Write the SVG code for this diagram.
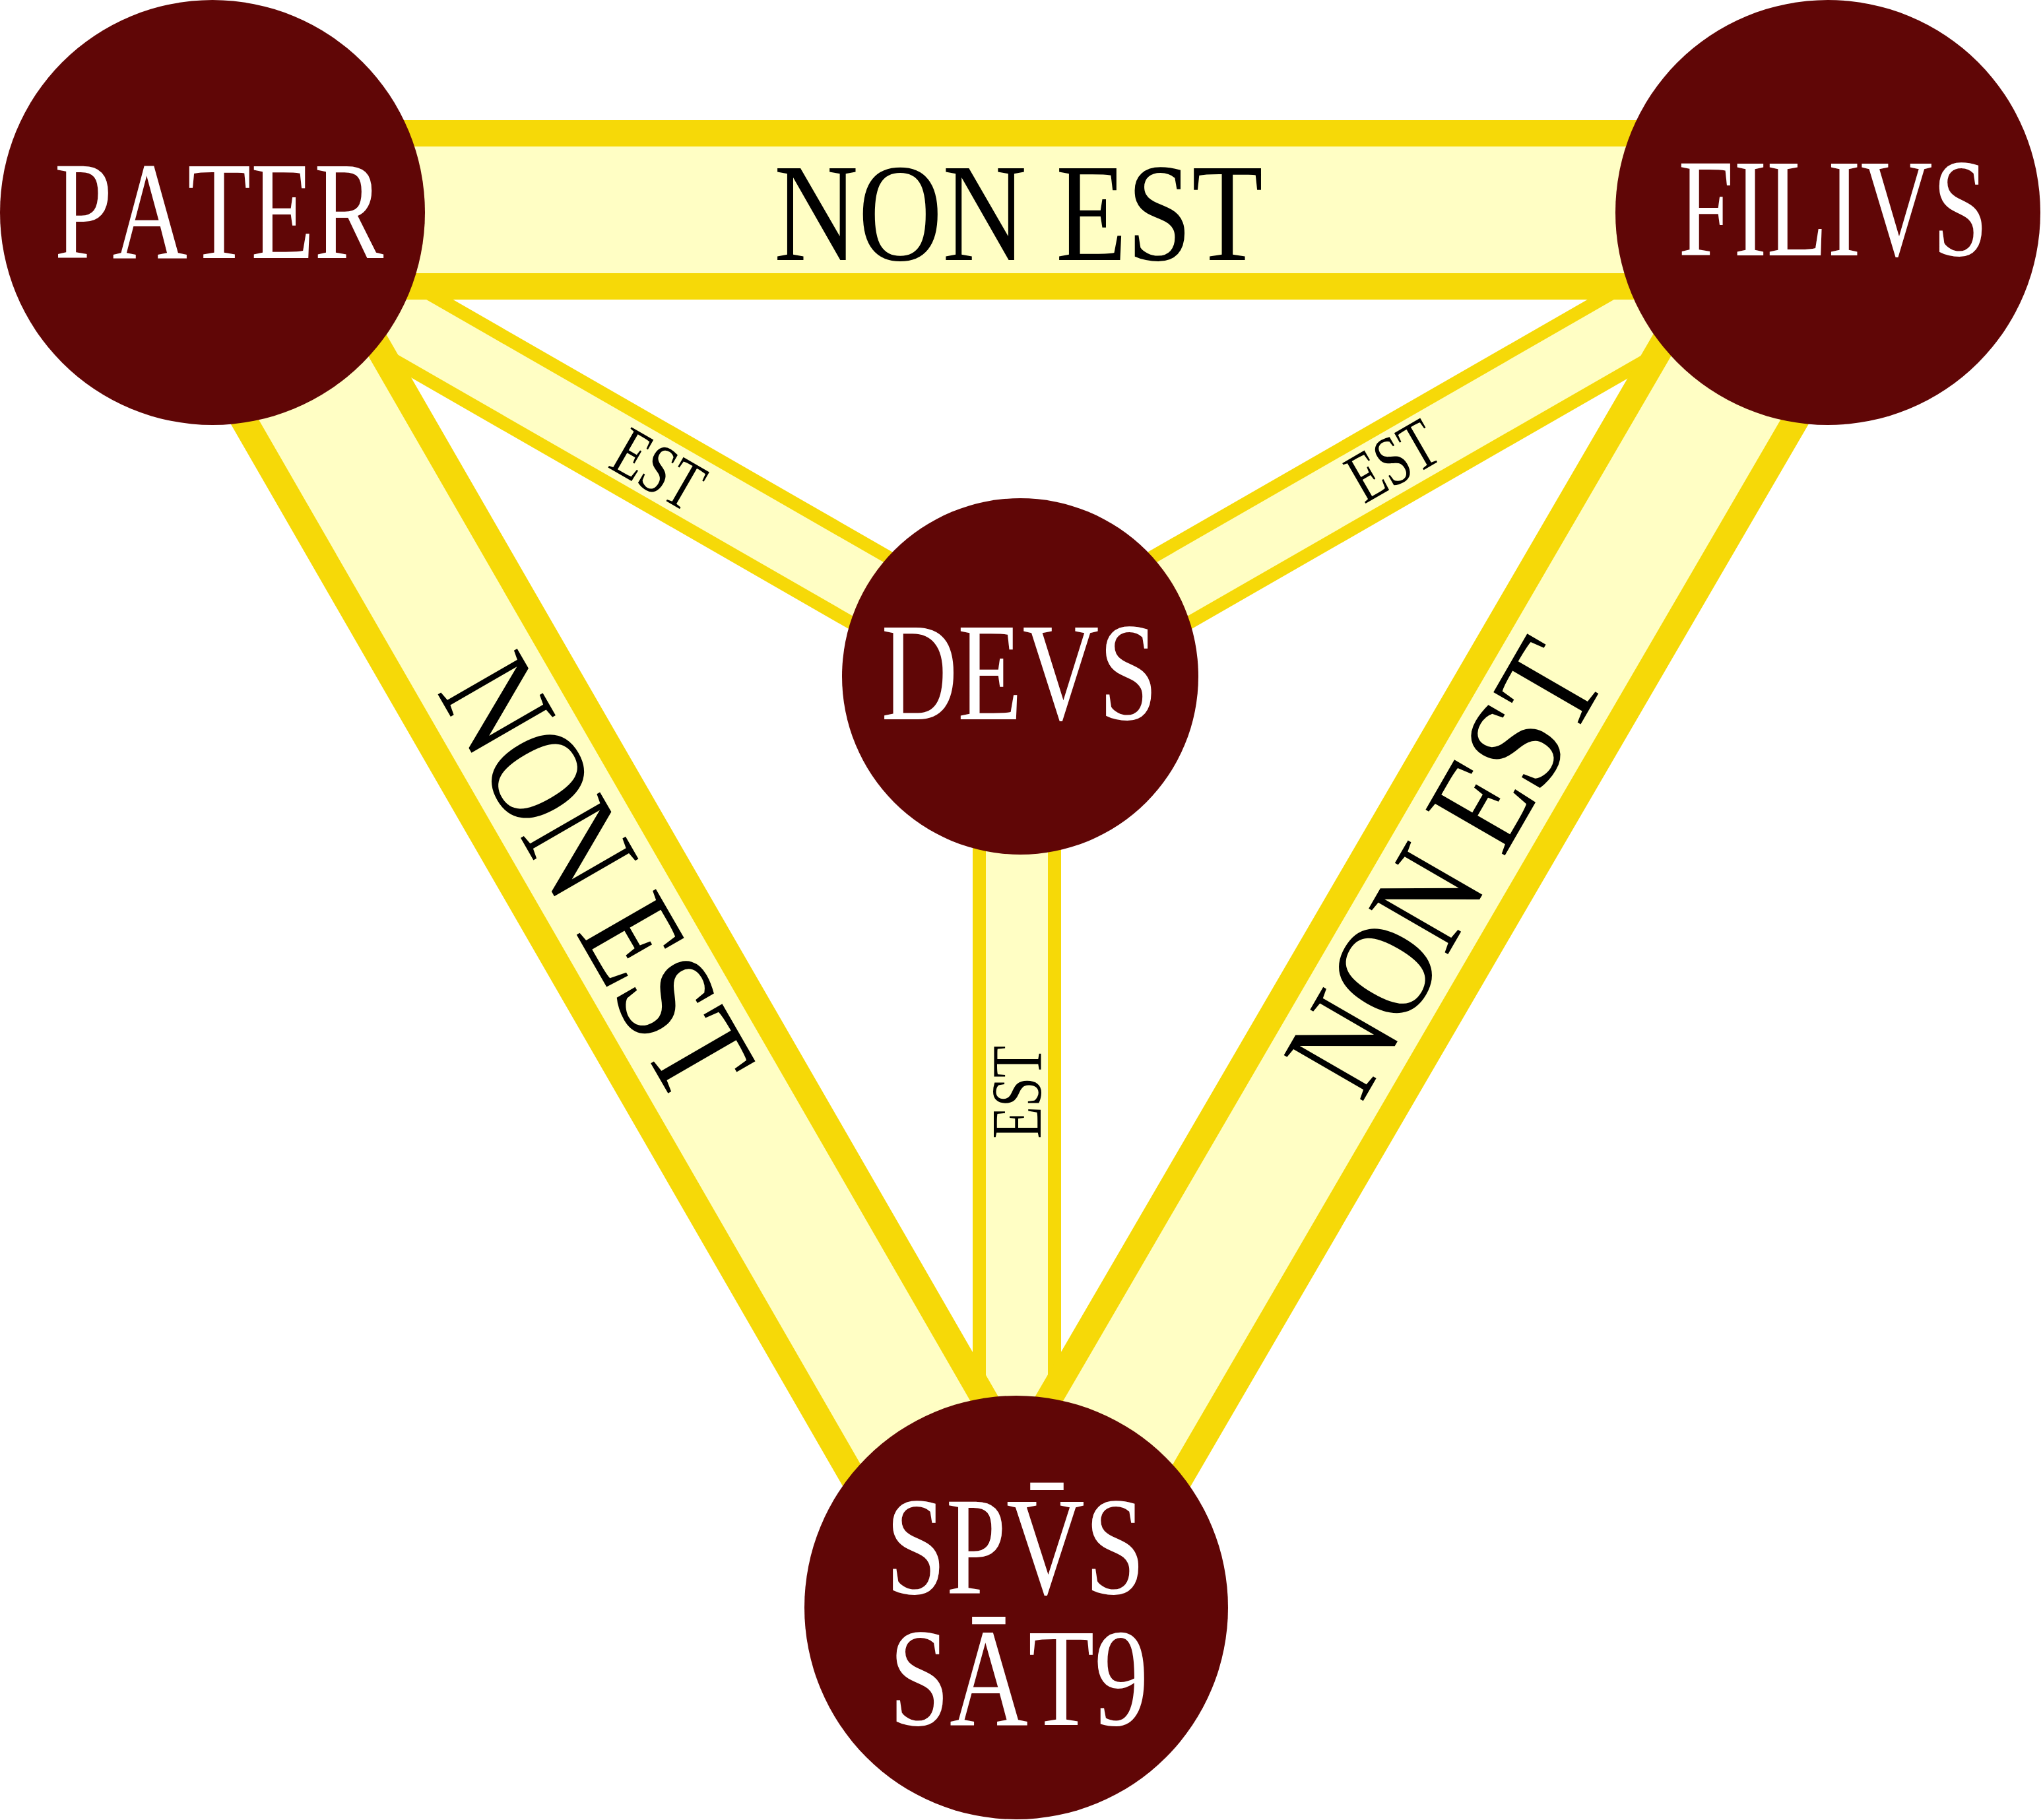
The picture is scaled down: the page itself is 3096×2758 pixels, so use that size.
<svg xmlns="http://www.w3.org/2000/svg" width="3096" height="2758" viewBox="0 0 3096 2758">
<style>
.y{stroke:#F6D908;fill:none}
.l{stroke:#FFFEC4;fill:none}
.ew{stroke-width:134}
.el{stroke-width:94}
.nw{stroke-width:272}
.nl{stroke-width:192}
.node{fill:#600606}
text{font-family:"Liberation Serif","Times New Roman",serif;text-anchor:middle;font-kerning:none}
.lbl{font-size:212px;fill:#ffffff}
.big{font-size:212px;fill:#000000}
.small{font-size:108px;fill:#000000}
</style>
<rect width="3096" height="2758" fill="#ffffff"/>
<g id="connectors">
  <g id="est-pater-devs">
    <line class="y ew" x1="322" y1="322" x2="1546" y2="1025"/>
    <line class="l el" x1="322" y1="322" x2="1546" y2="1025"/>
    <text class="small" transform="translate(998,711) rotate(30) scale(0.729,1)" x="0" y="36">EST</text>
  </g>
  <g id="est-filius-devs">
    <line class="y ew" x1="2770" y1="322" x2="1546" y2="1025"/>
    <line class="l el" x1="2770" y1="322" x2="1546" y2="1025"/>
    <text class="small" transform="translate(2110,698) rotate(-30) scale(0.729,1)" x="0" y="36">EST</text>
  </g>
  <g id="est-devs-spiritus">
    <line class="y ew" x1="1541" y1="1025" x2="1541" y2="2436"/>
    <line class="l el" x1="1541" y1="1025" x2="1541" y2="2436"/>
    <text class="small" transform="translate(1540.5,1655) rotate(-90) scale(0.734,1)" x="0" y="36">EST</text>
  </g>
  <g id="nonest-pater-filius">
    <line class="y nw" x1="322" y1="318" x2="2770" y2="318"/>
    <line class="l nl" x1="322" y1="318" x2="2770" y2="318"/>
    <text class="big" transform="translate(1543.5,394) scale(0.8334,1)" x="0" y="0">NON EST</text>
  </g>
  <g id="nonest-pater-spiritus">
    <line class="y nw" x1="322" y1="322" x2="1540" y2="2436"/>
    <line class="l nl" x1="322" y1="322" x2="1540" y2="2436"/>
    <text class="big" transform="translate(904,1329) rotate(60) scale(0.821,1)" x="0" y="70">NON EST</text>
  </g>
  <g id="nonest-filius-spiritus">
    <line class="y nw" x1="2770" y1="322" x2="1540" y2="2436"/>
    <line class="l nl" x1="2770" y1="322" x2="1540" y2="2436"/>
    <text class="big" transform="translate(2189,1315) rotate(-60) scale(0.838,1)" x="0" y="70">NON EST</text>
  </g>
</g>
<g id="node-pater">
  <circle class="node" cx="322" cy="322" r="322"/>
  <text class="lbl" transform="translate(332,391) scale(0.743,1)" x="0" y="0">PATER</text>
</g>
<g id="node-filius">
  <circle class="node" cx="2770" cy="322" r="322"/>
  <text class="lbl" transform="translate(2778,387) scale(0.711,1)" x="0" y="0">FILIVS</text>
</g>
<g id="node-deus">
  <circle class="node" cx="1546" cy="1025" r="270"/>
  <text class="lbl" transform="translate(1545,1090) scale(0.757,1)" x="0" y="0">DEVS</text>
</g>
<g id="node-spiritus">
  <circle class="node" cx="1540" cy="2436" r="321"/>
  <text class="lbl" transform="translate(1541,0) scale(0.776,1)"><tspan x="-3" y="2415">SPV̄S</tspan><tspan x="4" y="2614">SĀT9</tspan></text>
</g>
</svg>
